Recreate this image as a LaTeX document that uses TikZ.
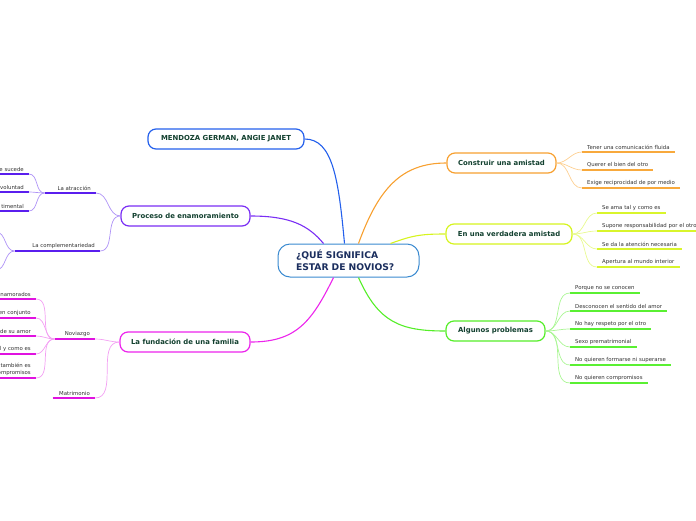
\documentclass[tikz,border=0pt]{standalone}
\usepackage{fontspec}
\setmainfont{DejaVu Sans}
\usetikzlibrary{positioning}

\definecolor{boxtext}{HTML}{12402F}
\definecolor{ctrtext}{HTML}{1B2E5E}
\definecolor{leaftext}{HTML}{333333}
\definecolor{ctrline}{HTML}{3A8AD0}
\definecolor{blueline}{HTML}{2460EC}
\definecolor{purpline}{HTML}{7A2EF4}
\definecolor{purpleaf}{HTML}{5A1EEE}
\definecolor{purptwig}{HTML}{AE92F6}
\definecolor{magline}{HTML}{EC24EC}
\definecolor{magleaf}{HTML}{E012E0}
\definecolor{magtwig}{HTML}{F3A0F3}
\definecolor{orline}{HTML}{F7A030}
\definecolor{orleaf}{HTML}{F8A93C}
\definecolor{ortwig}{HTML}{FDD092}
\definecolor{yelline}{HTML}{D6F41E}
\definecolor{yelleaf}{HTML}{D9F52C}
\definecolor{yeltwig}{HTML}{E8FA8E}
\definecolor{grnline}{HTML}{55EE28}
\definecolor{grnleaf}{HTML}{5AF032}
\definecolor{grntwig}{HTML}{AAF694}

\tikzset{
  topic/.style={draw=#1, fill=white, rounded corners=8pt, line width=1.2pt,
    minimum height=20pt, inner xsep=8pt, text=boxtext,
    font=\bfseries\fontsize{6.9}{8}\selectfont},
  leafr/.style={anchor=south west, inner xsep=5pt, inner ysep=2.5pt,
    text=leaftext, font=\fontsize{5.4}{7}\selectfont},
  leafl/.style={anchor=south east, inner xsep=5pt, inner ysep=2.5pt,
    align=right, text width=#1, text=leaftext, font=\fontsize{5.4}{7}\selectfont},
  uline/.style={draw=#1, line width=1.6pt},
  twig/.style={draw=#1, line width=0.7pt},
  limb/.style={draw=#1, line width=1.1pt},
}

\begin{document}
\begin{tikzpicture}[x=1pt,y=-1pt]
  \useasboundingbox (0,0) rectangle (696,520);

  % central idea
  \node[draw=ctrline, fill=white, rounded corners=12pt, line width=1pt,
    minimum width=141pt, minimum height=33pt, inner xsep=18pt, text width=105pt,
    align=left, text=ctrtext,
    font=\bfseries\fontsize{9.2}{12}\selectfont] (ctr) at (348.5,260.5)
    {¿QUÉ SIGNIFICA\\ESTAR DE NOVIOS?};

  % main topics
  \node[topic=blueline, minimum width=156pt] (autor) at (226,139) {MENDOZA GERMAN, ANGIE JANET};
  \node[topic=purpline, minimum width=129pt] (proceso) at (185.5,216) {Proceso de enamoramiento};
  \node[topic=magline, minimum width=130pt] (familia) at (185,342) {La fundación de una familia};
  \node[topic=orline, minimum width=109pt] (amistad) at (501.5,163) {Construir una amistad};
  \node[topic=yelline, minimum width=126pt] (verdad) at (509,234) {En una verdadera amistad};
  \node[topic=grnline, minimum width=99pt] (problemas) at (495.5,331) {Algunos problemas};

  \draw[limb=blueline] ([xshift=-4pt]ctr.north) .. controls +(-6,-65) and +(28,0) .. (autor.east);
  \draw[limb=purpline] ([xshift=-25pt]ctr.north) .. controls +(-15,-18) and +(40,0) .. (proceso.east);
  \draw[limb=magline] ([xshift=-15pt]ctr.south) .. controls +(-22,45) and +(45,0) .. (familia.east);
  \draw[limb=orline] ([xshift=10pt]ctr.north) .. controls +(20,-55) and +(-45,0) .. (amistad.west);
  \draw[limb=yelline] ([xshift=42pt]ctr.north) .. controls +(22,-8) and +(-25,0) .. (verdad.west);
  \draw[limb=grnline] ([xshift=10pt]ctr.south) .. controls +(20,45) and +(-45,0) .. (problemas.west);

  % Construir una amistad
  \foreach \n/\y/\t in {1/152/Tener una comunicación fluida,
                         2/170/Querer el bien del otro,
                         3/188/Exige reciprocidad de por medio} {
    \node[leafr] (am\n) at (582,\y) {\t};
    \draw[uline=orleaf] (am\n.south west) -- (am\n.south east);
    \draw[twig=ortwig] (amistad.east) to[out=0,in=180] (am\n.south west);
  }

  % En una verdadera amistad
  \foreach \n/\y/\t in {1/213/Se ama tal y como es,
                         2/231/Supone responsabilidad por el otro,
                         3/249/Se da la atención necesaria,
                         4/267/Apertura al mundo interior} {
    \node[leafr] (va\n) at (597,\y) {\t};
    \draw[uline=yelleaf] (va\n.south west) -- (va\n.south east);
    \draw[twig=yeltwig] (verdad.east) to[out=0,in=180] (va\n.south west);
  }

  % Algunos problemas
  \foreach \n/\y/\t in {1/293/Porque no se conocen,
                         2/311/Desconocen el sentido del amor,
                         3/329/No hay respeto por el otro,
                         4/347/Sexo prematrimonial,
                         5/365/No quieren formarse ni superarse,
                         6/383/No quieren compromisos} {
    \node[leafr] (pr\n) at (570,\y) {\t};
    \draw[uline=grnleaf] (pr\n.south west) -- (pr\n.south east);
    \draw[twig=grntwig] (problemas.east) to[out=0,in=180] (pr\n.south west);
  }

  % Proceso de enamoramiento
  \node[leafl=41pt] (atr) at (96,193) {La atracción};
  \node[leafl=75pt] (comp) at (100,251) {La complementariedad};
  \foreach \s in {atr,comp} {
    \draw[uline=purpleaf] (\s.south west) -- (\s.south east);
    \draw[twig=purptwig] (proceso.west) to[out=180,in=0] (\s.south east);
  }
  \foreach \n/\y/\t in {1/174/e sucede, 2/192/voluntad, 3/211/timental} {
    \node[leafl=50pt] (atr\n) at (29,\y) {\t};
    \draw[uline=purpleaf] (atr\n.south west) -- (atr\n.south east);
    \draw[twig=purptwig] (atr.south west) to[out=180,in=0] (atr\n.south east);
  }
  \coordinate (comp1) at (-4,232);
  \coordinate (comp2) at (-4,270);
  \foreach \n in {1,2}
    \draw[twig=purptwig] (comp.south west) to[out=180,in=0] (comp\n);

  % La fundacion de una familia
  \node[leafl=30pt] (novio) at (95,339) {Noviazgo};
  \node[leafl=32pt] (matri) at (95,398) {Matrimonio};
  \foreach \s in {novio,matri} {
    \draw[uline=magleaf] (\s.south west) -- (\s.south east);
    \draw[twig=magtwig] (familia.west) to[out=180,in=0] (\s.south east);
  }
  \foreach \n/\y/\t in {1/299/enamorados, 2/318/en conjunto, 3/336/de su amor,
                         4/354/l y como es, 5/378/también es\\compromisos} {
    \node[leafl=50pt] (nov\n) at (36,\y) {\t};
    \draw[uline=magleaf] (nov\n.south west) -- (nov\n.south east);
    \draw[twig=magtwig] (novio.south west) to[out=180,in=0] (nov\n.south east);
  }
\end{tikzpicture}
\end{document}
